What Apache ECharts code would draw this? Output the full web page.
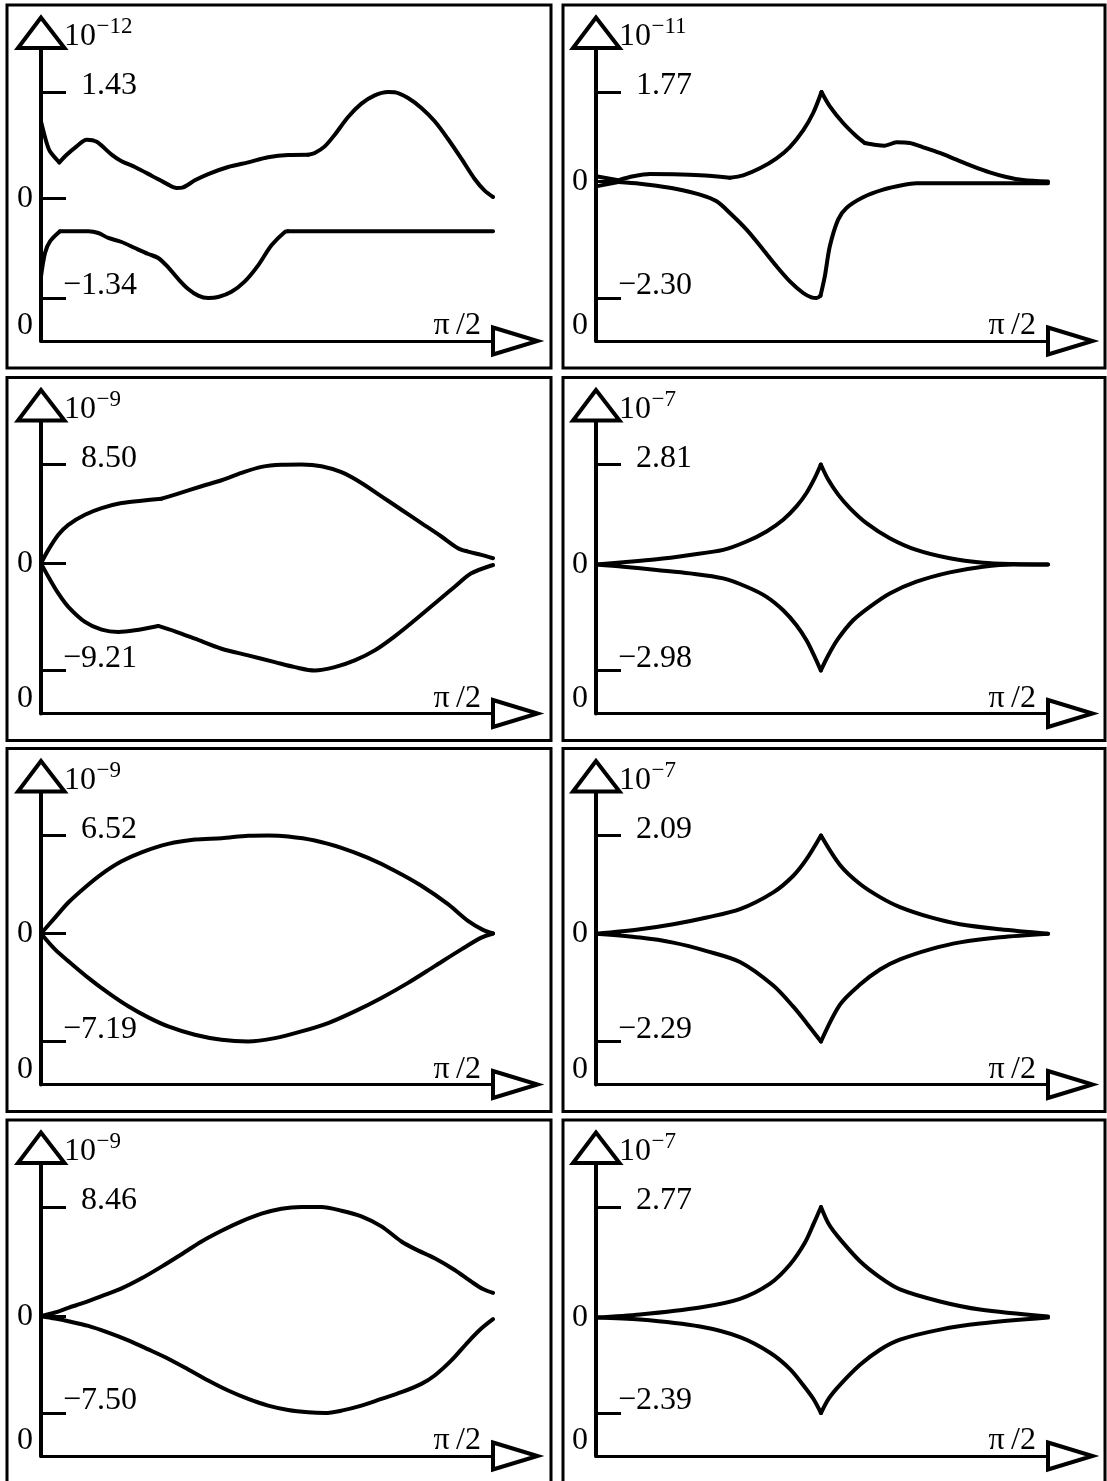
<!DOCTYPE html>
<html>
<head>
<meta charset="utf-8">
<script src="https://cdn.jsdelivr.net/npm/echarts@6/dist/echarts.min.js"></script>
<style>
  html, body { margin: 0; padding: 0; background: #fff; }
  #chart { width: 1107px; height: 1481px; }
</style>
</head>
<body>
<div id="chart"></div>
<script>
// Eight panels (4 rows x 2 columns). Angle runs 0..90 degrees (0..π/2).
// Each panel: an upper and a lower curve, scaled by 10^exponent.
const exponents  = [-12, -11, -9, -7, -9, -7, -9, -7];
const tickTop    = [1.43, 1.77, 8.50, 2.81, 6.52, 2.09, 8.46, 2.77];
const tickBottom = [-1.34, -2.30, -9.21, -2.98, -7.19, -2.29, -7.50, -2.39];

const upper1 = [[0,1.035],[1.13,0.744],[1.79,0.631],[3.64,0.483],[5.12,0.587],[7.1,0.70],[9.1,0.789],[11.1,0.76],[14.06,0.587],[16.05,0.498],[18.70,0.422],[22.02,0.305],[25.33,0.184],[26.99,0.139],[28.32,0.148],[30.64,0.242],[33.29,0.327],[37.27,0.422],[41.25,0.484],[45.23,0.552],[49.21,0.583],[53.19,0.587],[54.51,0.610],[56.50,0.699],[58.49,0.856],[61.15,1.094],[63.80,1.273],[66.45,1.385],[69.11,1.43],[70.43,1.426],[73.08,1.349],[75.74,1.215],[78.39,1.036],[81.04,0.798],[83.70,0.534],[86.35,0.260],[88.34,0.103],[90,0.018]];
const lower1 = [[0,-1.05],[0.8,-0.735],[1.79,-0.579],[3.78,-0.443],[9.42,-0.443],[11.41,-0.466],[13.40,-0.533],[16.05,-0.587],[18.70,-0.668],[21.36,-0.748],[23.34,-0.802],[25.33,-0.928],[27.32,-1.084],[29.31,-1.219],[31.30,-1.308],[33.29,-1.34],[35.28,-1.326],[37.93,-1.255],[40.59,-1.116],[43.24,-0.901],[45.89,-0.632],[48.55,-0.452],[49.21,-0.443],[90,-0.443]];

const upper2 = [[0,0.104],[4.44,0.025],[7.43,0.104],[10.74,0.150],[15.39,0.143],[20.69,0.124],[26.66,0.077],[29.31,0.124],[32.63,0.262],[35.95,0.459],[38.60,0.683],[41.25,1.013],[43.24,1.355],[44.90,1.77],[46.56,1.487],[49.21,1.157],[51.86,0.894],[53.52,0.762],[55.84,0.723],[57.50,0.710],[59.82,0.775],[62.47,0.762],[65.13,0.677],[68.44,0.565],[71.76,0.433],[75.07,0.301],[78.39,0.183],[81.71,0.091],[85.02,0.031],[90,0]];
const lower2 = [[0,-0.094],[4.44,-0.008],[8.75,-0.041],[12.07,-0.081],[16.05,-0.147],[20.69,-0.258],[24.01,-0.390],[26.66,-0.621],[29.98,-0.950],[33.29,-1.345],[35.95,-1.674],[38.60,-1.971],[41.25,-2.201],[42.91,-2.287],[43.9,-2.30],[44.70,-2.254],[45.56,-1.872],[46.56,-1.279],[48.21,-0.752],[49.87,-0.522],[53.19,-0.311],[57.17,-0.160],[61.15,-0.068],[63.80,-0.035],[90,-0.035]];

const upper3 = [[0,0],[1.46,1.157],[3.45,2.453],[5.44,3.317],[8.75,4.180],[12.07,4.756],[16.05,5.188],[20.03,5.390],[24.01,5.563],[27.32,5.995],[31.97,6.628],[35.95,7.147],[39.92,7.780],[43.90,8.298],[47.88,8.48],[51.86,8.50],[55.84,8.356],[59.82,7.838],[63.80,6.916],[67.78,5.764],[71.76,4.612],[75.74,3.461],[79.72,2.309],[83.03,1.301],[85.02,1.013],[87.67,0.725],[90,0.437]];
const lower3 = [[0,0],[1.46,-1.147],[3.45,-2.587],[5.44,-3.739],[8.75,-5.035],[12.07,-5.697],[15.39,-5.899],[18.70,-5.755],[23.34,-5.380],[26.66,-5.841],[30.64,-6.474],[35.95,-7.338],[41.25,-7.914],[46.56,-8.490],[50.54,-8.922],[54.51,-9.21],[58.49,-8.922],[62.47,-8.346],[66.45,-7.482],[70.43,-6.273],[74.41,-4.891],[78.39,-3.451],[82.37,-2.011],[85.69,-0.859],[90,-0.139]];

const upper4 = [[0,0],[5.44,0.061],[12.07,0.146],[18.70,0.268],[25.33,0.409],[29.98,0.645],[33.96,0.927],[37.27,1.257],[39.92,1.633],[41.91,2.010],[43.57,2.433],[44.77,2.81],[46.23,2.386],[48.22,1.963],[50.54,1.586],[53.85,1.162],[58.49,0.739],[63.80,0.409],[70.43,0.174],[77.06,0.051],[83.03,0.014],[90,0]];
const lower4 = [[0,0],[5.44,-0.062],[12.07,-0.156],[18.70,-0.250],[25.33,-0.391],[29.98,-0.626],[33.96,-0.909],[37.27,-1.286],[39.92,-1.709],[41.91,-2.133],[43.57,-2.604],[44.77,-2.98],[46.23,-2.557],[48.22,-2.086],[51.20,-1.568],[54.51,-1.191],[58.49,-0.815],[63.80,-0.485],[70.43,-0.222],[77.06,-0.062],[83.03,0],[90,0]];

const upper5 = [[0,0],[2.79,1.058],[5.44,2.061],[8.75,3.065],[12.07,3.956],[16.05,4.803],[20.03,5.405],[25.33,5.963],[30.64,6.252],[35.95,6.342],[41.25,6.50],[45.23,6.52],[49.21,6.453],[54.51,6.186],[59.82,5.695],[65.13,5.026],[70.43,4.179],[75.74,3.176],[81.04,1.950],[85.02,0.835],[88.0,0.24],[90,0]];
const lower5 = [[0,0],[2.79,-1.060],[5.44,-1.840],[9.42,-2.955],[13.40,-3.958],[17.38,-4.849],[21.36,-5.585],[25.33,-6.187],[30.64,-6.744],[35.95,-7.079],[41.25,-7.19],[46.56,-6.967],[51.86,-6.521],[57.17,-5.964],[62.47,-5.184],[67.78,-4.292],[73.08,-3.289],[78.39,-2.174],[83.70,-1.060],[87.67,-0.279],[90,0]];

const upper6 = [[0,0],[8.76,0.097],[15.39,0.203],[22.04,0.347],[28.67,0.524],[35.30,0.881],[39.29,1.235],[41.95,1.592],[44.8,2.09],[48.58,1.464],[52.57,1.058],[56.55,0.780],[60.53,0.567],[66.51,0.353],[72.48,0.203],[80.44,0.096],[90,0]];
const lower6 = [[0,0],[8.76,-0.081],[15.39,-0.188],[22.04,-0.367],[28.67,-0.600],[35.30,-1.100],[39.29,-1.550],[41.95,-1.900],[44.8,-2.29],[48.58,-1.506],[52.57,-1.079],[56.55,-0.759],[60.53,-0.545],[66.51,-0.331],[72.48,-0.182],[80.44,-0.075],[90,0]];

const upper7 = [[0,0],[2.79,0.285],[5.44,0.649],[8.75,1.064],[12.07,1.557],[16.05,2.154],[20.03,2.932],[24.01,3.841],[27.99,4.801],[31.97,5.787],[35.95,6.617],[39.92,7.344],[43.90,7.941],[47.88,8.330],[51.86,8.46],[55.84,8.46],[59.82,8.175],[63.80,7.733],[67.78,6.955],[71.76,5.787],[74.41,5.216],[78.39,4.490],[82.37,3.581],[85.69,2.673],[88.0,2.1],[90,1.8]];
const lower7 = [[0,0],[2.79,-0.182],[5.44,-0.389],[9.42,-0.753],[13.40,-1.272],[17.38,-1.869],[21.36,-2.569],[25.33,-3.296],[29.31,-4.126],[33.29,-4.983],[37.27,-5.761],[41.25,-6.410],[45.23,-6.929],[49.21,-7.266],[53.19,-7.448],[56.50,-7.50],[59.82,-7.318],[63.80,-6.929],[67.78,-6.410],[71.76,-5.891],[75.74,-5.242],[78.39,-4.593],[81.71,-3.426],[85.02,-2.0],[87.67,-0.960],[90,-0.234]];

const upper8 = [[0,0],[8.76,0.077],[20.71,0.253],[28.67,0.470],[34.65,0.850],[38.63,1.330],[41.62,1.880],[43.3,2.34],[44.8,2.77],[46.4,2.33],[48.58,1.965],[52.57,1.411],[56.55,1.008],[60.53,0.706],[68.50,0.404],[76.46,0.203],[90,0.03]];
const lower8 = [[0,0],[8.76,-0.049],[20.71,-0.225],[28.67,-0.490],[34.65,-0.880],[38.63,-1.290],[41.62,-1.750],[43.3,-2.04],[44.8,-2.39],[46.4,-2.02],[48.58,-1.685],[52.57,-1.182],[56.55,-0.804],[60.53,-0.552],[68.50,-0.301],[76.46,-0.150],[90,0]];

const upperCurves = [upper1, upper2, upper3, upper4, upper5, upper6, upper7, upper8];
const lowerCurves = [lower1, lower2, lower3, lower4, lower5, lower6, lower7, lower8];
// angles where a curve has a sharp corner (kept unsmoothed)
const upperKinks = [[3.64, 53.19], [4.44, 26.66, 44.90, 53.52], [24.01], [44.77], [], [44.8], [], [44.8]];
const lowerKinks = [[3.78, 49.21], [4.44, 44.70], [23.34], [44.77], [], [44.8], [], [44.8]];

// ---- layout (pixels) ----
const FONT = '"Liberation Serif", "Times New Roman", serif';
const COL_X = [7, 563], COL_W = [544, 542];
const ROW_Y = [5, 377.5, 748.5, 1120], ROW_H = 363;
const AXIS_DX = [34, 33];
const PLOT_W = 452;
const TOP_TICK_DY = 87, BOT_TICK_DY = 293, X_AXIS_DY = 336;
const ARROW_BASE_DY = 43, ARROW_TIP_DY = 12.5;

function splitAt(data, kinks) {
  const parts = [];
  let cur = [];
  data.forEach((p, j) => {
    cur.push(p);
    if (j > 0 && j < data.length - 1 && kinks.includes(p[0])) {
      parts.push(cur);
      cur = [p];
    }
  });
  if (cur.length > 1) parts.push(cur);
  return parts;
}

const grids = [], xAxes = [], yAxes = [], series = [], graphics = [];
const txt = { color: '#000', fontSize: 32, fontFamily: FONT };

for (let i = 0; i < 8; i++) {
  const c = i % 2, r = Math.floor(i / 2);
  const px = COL_X[c], py = ROW_Y[r];
  const ax = px + AXIS_DX[c];
  const top = tickTop[i], bot = tickBottom[i];
  const k = (top - bot) / (BOT_TICK_DY - TOP_TICK_DY);
  const yMax = top + (TOP_TICK_DY - ARROW_BASE_DY) * k;
  const yMin = bot - (X_AXIS_DY - BOT_TICK_DY) * k;

  grids.push({ left: ax, top: py + ARROW_BASE_DY, width: PLOT_W,
               height: X_AXIS_DY - ARROW_BASE_DY, containLabel: false });

  xAxes.push({
    type: 'value', gridIndex: i, min: 0, max: 90,
    axisLine: { show: true, onZero: false, lineStyle: { color: '#000', width: 3 } },
    axisTick: { show: false }, splitLine: { show: false },
    axisLabel: {
      show: true, inside: true, customValues: [0, 90], margin: -1, align: 'right',
      formatter: v => v === 0 ? '{z|0}' : '{p|π\u2009/2}',
      rich: { z: Object.assign({ padding: [0, 8, 0, 0] }, txt),
              p: Object.assign({ padding: [0, 12, 0, 0] }, txt) }
    }
  });

  // axis line, ticks and the zero label
  yAxes.push({
    type: 'value', gridIndex: i, min: yMin, max: yMax, position: 'left',
    axisLine: { show: true, onZero: false, lineStyle: { color: '#000', width: 4 } },
    axisTick: { show: true, inside: true, length: 25, customValues: [bot, 0, top],
                lineStyle: { color: '#000', width: 3 } },
    axisLabel: Object.assign({ show: true, customValues: [0], margin: 8, formatter: () => '0' }, txt),
    splitLine: { show: false }
  });
  // extreme-value labels inside the plot
  yAxes.push({
    type: 'value', gridIndex: i, min: yMin, max: yMax, position: 'left', offset: 0,
    axisLine: { show: false }, axisTick: { show: false }, splitLine: { show: false },
    axisLabel: {
      show: true, inside: true, customValues: [bot, top], margin: 96,
      align: 'right', verticalAlign: 'bottom',
      formatter: v => v > 0 ? '{hi|' + top.toFixed(2) + '}' : '{lo|\u2212' + Math.abs(bot).toFixed(2) + '}',
      rich: { hi: Object.assign({ lineHeight: 12 }, txt), lo: Object.assign({ lineHeight: 24 }, txt) }
    }
  });

  [[upperCurves[i], upperKinks[i]], [lowerCurves[i], lowerKinks[i]]].forEach(([curve, kinks]) => {
    splitAt(curve, kinks).forEach(seg => series.push({
      type: 'line', xAxisIndex: i, yAxisIndex: 2 * i, data: seg,
      showSymbol: false, smooth: 0.3, clip: false, silent: true,
      lineStyle: { color: '#000', width: 4, join: 'round', cap: 'round' }
    }));
  });

  // panel frame, axis arrow heads, scale factor
  graphics.push({ type: 'rect', z: 50, silent: true,
    shape: { x: px, y: py, width: COL_W[c], height: ROW_H },
    style: { fill: 'none', stroke: '#000', lineWidth: 3 } });
  graphics.push({ type: 'polygon', z: 100, silent: true,
    shape: { points: [[ax, py + ARROW_TIP_DY], [ax - 23, py + ARROW_BASE_DY], [ax + 23.5, py + ARROW_BASE_DY]] },
    style: { fill: '#fff', stroke: '#000', lineWidth: 4, lineJoin: 'miter' } });
  const xa = ax + PLOT_W, ya = py + X_AXIS_DY;
  graphics.push({ type: 'polygon', z: 100, silent: true,
    shape: { points: [[xa, ya - 13.5], [xa + 44.5, ya], [xa, ya + 13.5]] },
    style: { fill: '#fff', stroke: '#000', lineWidth: 4, lineJoin: 'miter' } });
  graphics.push({ type: 'text', z: 100, silent: true, x: ax + 23, y: py + 32,
    style: { text: '10', fontSize: 32, fontFamily: FONT, fill: '#000',
             align: 'left', verticalAlign: 'middle', textAlign: 'left', textVerticalAlign: 'middle' } });
  graphics.push({ type: 'text', z: 100, silent: true, x: ax + 55.5, y: py + 22,
    style: { text: '\u2212' + Math.abs(exponents[i]), fontSize: 23, fontFamily: FONT, fill: '#000',
             align: 'left', verticalAlign: 'middle', textAlign: 'left', textVerticalAlign: 'middle' } });
}

const chart = echarts.init(document.getElementById('chart'), null, { renderer: 'canvas' });
chart.setOption({
  animation: false,
  backgroundColor: '#fff',
  grid: grids,
  xAxis: xAxes,
  yAxis: yAxes,
  series: series,
  graphic: { elements: graphics }
});
</script>
</body>
</html>
